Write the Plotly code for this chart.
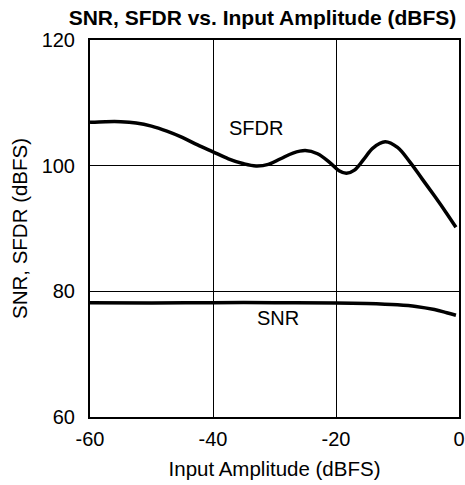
import plotly.graph_objects as go

sfdr_x = [-60, -57.5, -55, -52.5, -50, -47.5, -45, -42.5, -40, -37.5, -35, -33, -31, -29, -27, -25, -23, -21, -19.5, -18.3, -17, -15.5, -14, -12, -10, -8, -6, -4, -2, -0.5]
sfdr_y = [106.9, 107.0, 107.0, 106.8, 106.3, 105.5, 104.5, 103.3, 102.2, 101.1, 100.3, 99.95, 100.2, 101.1, 102.0, 102.4, 101.9, 100.5, 99.2, 98.8, 99.3, 101.0, 102.8, 103.8, 102.9, 100.6, 97.9, 95.2, 92.4, 90.2]

snr_x = [-60, -50, -40, -30, -20, -15, -10, -7, -4, -2, -0.5]
snr_y = [78.2, 78.15, 78.2, 78.2, 78.15, 78.05, 77.85, 77.6, 77.1, 76.6, 76.2]

x_ticks = [-60, -40, -20, 0]
y_ticks = [60, 80, 100, 120]

FONT = "Liberation Sans, Arial, sans-serif"

W, H = 465, 485

fig = go.Figure()
fig.add_trace(go.Scatter(x=sfdr_x, y=sfdr_y, mode="lines",
                         line=dict(color="black", width=3.5, shape="spline", smoothing=1.0),
                         showlegend=False, hoverinfo="skip"))
fig.add_trace(go.Scatter(x=snr_x, y=snr_y, mode="lines",
                         line=dict(color="black", width=3.5, shape="spline", smoothing=1.0),
                         showlegend=False, hoverinfo="skip"))

fig.add_annotation(x=-33, y=106, text="SFDR", showarrow=False,
                   font=dict(family=FONT, size=20, color="black"))
fig.add_annotation(x=-29.5, y=75.7, text="SNR", showarrow=False,
                   font=dict(family=FONT, size=20, color="black"))

fig.update_layout(
    width=W, height=H,
    margin=dict(l=90, r=6, t=40, b=68, autoexpand=False),
    paper_bgcolor="white", plot_bgcolor="white",
    font=dict(family=FONT, size=20, color="black"),
    title=dict(text="<b>SNR, SFDR vs. Input Amplitude (dBFS)</b>",
               x=262.5 / W, xanchor="center", y=1 - 18 / H, yanchor="middle",
               font=dict(family=FONT, size=21, color="black")),
)
fig.update_xaxes(range=[-60, 0], tickvals=x_ticks, ticktext=[str(v) for v in x_ticks],
                 showgrid=True, gridcolor="black", gridwidth=1,
                 showline=True, linecolor="black", linewidth=2, mirror=True,
                 zeroline=False, ticks="", ticklabelstandoff=3, automargin=False,
                 title=dict(text="Input Amplitude (dBFS)", standoff=13,
                            font=dict(family=FONT, size=20.5)))
fig.update_yaxes(range=[60, 120], tickvals=y_ticks, ticktext=[str(v) for v in y_ticks],
                 showgrid=True, gridcolor="black", gridwidth=1,
                 showline=True, linecolor="black", linewidth=2, mirror=True,
                 zeroline=False, ticks="", ticklabelstandoff=9, automargin=False,
                 title=dict(text="SNR, SFDR (dBFS)", standoff=8,
                            font=dict(family=FONT, size=20.5)))

fig.write_html("out.html",
               config={"displayModeBar": False},
               post_script="document.body.style.margin='0';document.body.style.overflow='hidden';")
